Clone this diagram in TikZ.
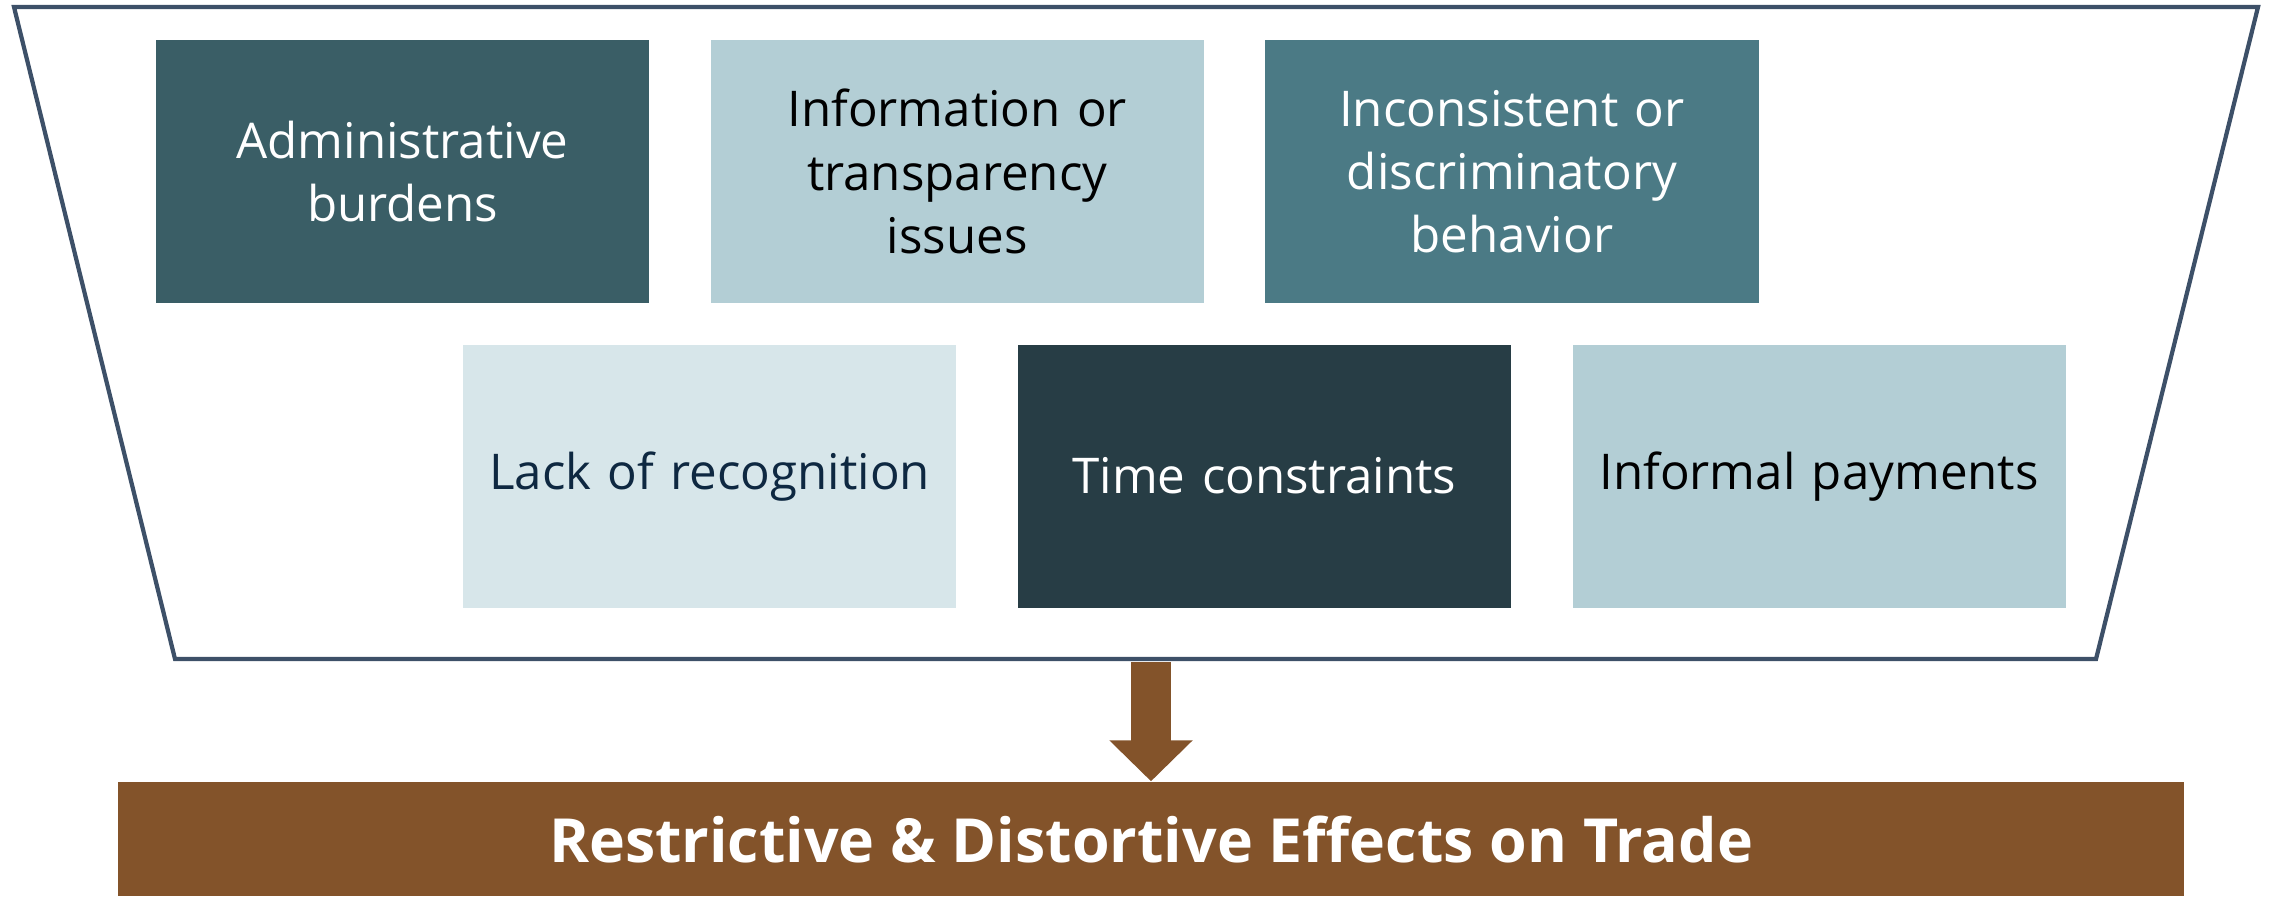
\documentclass[tikz,border=0pt]{standalone}
\usepackage{fontspec}
\setmainfont{Open Sans}
\usepackage{xcolor}
\usepackage{tikz}
\usetikzlibrary{arrows.meta, positioning}

\definecolor{funnelline}{HTML}{3D5068}
\definecolor{tealdark}{HTML}{3A5E66}
\definecolor{teallight}{HTML}{B3CED5}
\definecolor{tealmid}{HTML}{4B7A85}
\definecolor{tealpale}{HTML}{D7E6EA}
\definecolor{tealdeep}{HTML}{273D45}
\definecolor{navytext}{HTML}{0E2841}
\definecolor{effectbrown}{HTML}{83532A}

\begin{document}
\begin{tikzpicture}[
  x=0.01cm, y=-0.01cm,
  font=\fontsize{14}{18}\selectfont,
  block/.style={align=center, inner sep=0pt, minimum width=49.3mm, minimum height=26.3mm, text width=47mm},
  darkA/.style={block, fill=tealdark, text=white},
  lightA/.style={block, fill=teallight, text=black},
  midA/.style={block, fill=tealmid, text=white},
  paleA/.style={block, fill=tealpale, text=navytext},
  deepA/.style={block, fill=tealdeep, text=white},
  funnel/.style={draw=funnelline, line width=1.2pt, line join=miter},
  effect/.style={fill=effectbrown, text=white, inner sep=0pt, minimum width=206.4mm, minimum height=11.4mm, font=\fontsize{17.3}{20}\bfseries},
  line/.style={-{Triangle[width=8.1mm, length=4.1mm]}, line width=4mm, draw=effectbrown}
]
\useasboundingbox (0,0) rectangle (2270,896);

% Funnel outline
\coordinate (ftl) at (14,7);
\coordinate (ftr) at (2258,7);
\coordinate (fbr) at (2096,659);
\coordinate (fbl) at (175,659);
\draw[funnel] (ftl) -- (ftr) -- (fbr) -- (fbl) -- cycle;

% Row 1
\node[darkA] (admin) at (402.5,171.5) {Administrative\\burdens};
\node[lightA, right=6mm of admin] (info) {Information or\\transparency\\issues};
\node[midA, right=6mm of info] (behav) {Inconsistent or\\discriminatory\\behavior};

% Row 2
\node[paleA, below=4mm of admin, xshift=30.7mm] (recog) {Lack of recognition};
\node[deepA, right=6mm of recog] (time) {Time constraints};
\node[lightA, right=6mm of time] (pay) {Informal payments};

% Result
\node[effect] (effects) at (1151,839) {Restrictive \& Distortive Effects on Trade};
\coordinate (fout) at (1151,662);

% Connections
\draw[line] (fout) -- (effects.north);

\end{tikzpicture}
\end{document}
